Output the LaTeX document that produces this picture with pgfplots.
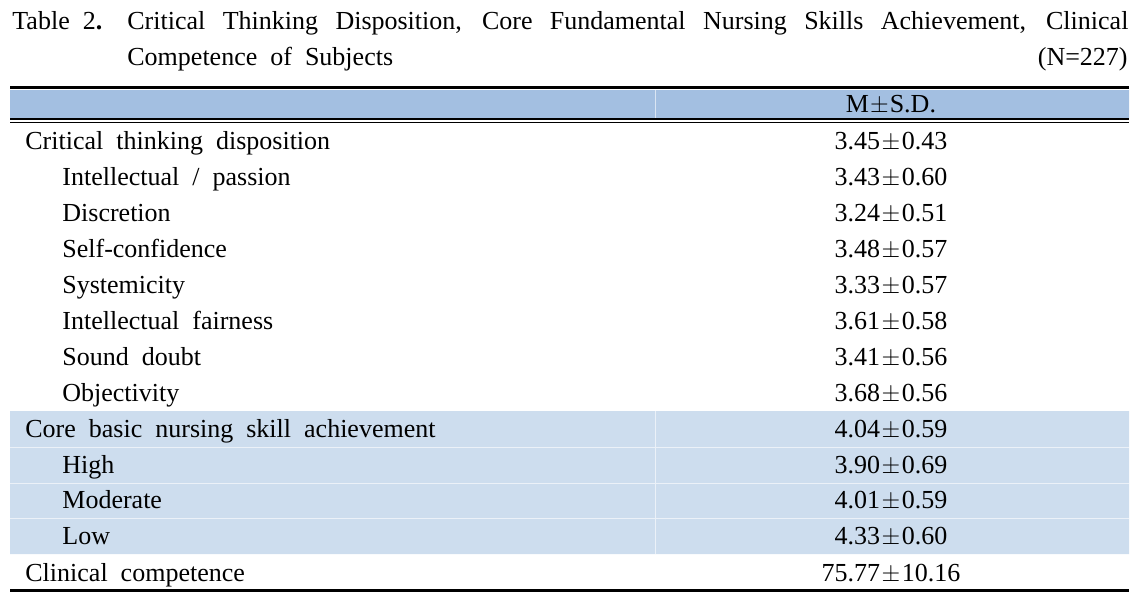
\documentclass[border=0pt]{standalone}
\usepackage{pgfplots}
\pgfplotsset{compat=1.18}
\usepackage{fontspec}
\setmainfont{Liberation Serif}
\definecolor{hdr}{RGB}{163,191,225}
\definecolor{shd}{RGB}{205,221,238}
\newcommand{\pmv}[2]{#1\hspace{0.8pt}$\pm$\hspace{0.8pt}#2}
\begin{document}
\fontsize{13pt}{15pt}\selectfont
\begin{tikzpicture}[every node/.style={font=\fontsize{13pt}{15pt}\selectfont}]
\begin{axis}[
  x=0.5pt, y=0.5pt,
  xmin=0, xmax=1148, ymin=0, ymax=595,
  y dir=reverse,
  hide axis, clip=false,
]
\addplot[draw=none] coordinates {(0,0) (1148,595)};
% header fill
\addplot[fill=hdr, draw=none] coordinates {(10,90) (1129,90) (1129,118) (10,118) (10,90)};
% shaded rows
\addplot[fill=shd, draw=none] coordinates {(10,411) (1129,411) (1129,554) (10,554) (10,411)};
% white separators
\addplot[white!60!shd, line width=0.5pt] coordinates {(10,447) (1129,447)};
\addplot[white!60!shd, line width=0.5pt] coordinates {(10,483) (1129,483)};
\addplot[white!60!shd, line width=0.5pt] coordinates {(10,518) (1129,518)};
\addplot[white!60!shd, line width=0.5pt] coordinates {(655,411) (655,554)};
\addplot[white!60!hdr, line width=0.5pt] coordinates {(655,90) (655,118)};
% rules
\addplot[black, line width=1.5pt] coordinates {(10,87.5) (1129,87.5)};
\addplot[black, line width=1pt] coordinates {(10,118.5) (1129,118.5)};
\addplot[black, line width=0.5pt] coordinates {(10,122) (1129,122)};
\addplot[black, line width=1.5pt] coordinates {(10,590.5) (1129,590.5)};
% title
\node[anchor=base west, inner sep=0pt] at (axis cs:12,29) {Table\ \ 2\textbf{.}};
\node[anchor=base west, inner sep=0pt] at (axis cs:127,29) {\makebox[500.5pt][s]{Critical Thinking Disposition, Core Fundamental Nursing Skills Achievement, Clinical}};
\node[anchor=base west, inner sep=0pt] at (axis cs:127,65) {Competence\ \ of\ \ Subjects};
\node[anchor=base east, inner sep=0pt] at (axis cs:1128,65) {(N=227)};
% header
\node[anchor=base, inner sep=0pt] at (axis cs:891,112) {M\hspace{0.5pt}$\pm$\hspace{0.5pt}S.D.};
% rows
\node[anchor=base west, inner sep=0pt] at (axis cs:25,149) {Critical\ \ thinking\ \ disposition};
\node[anchor=base west, inner sep=0pt] at (axis cs:62,185) {Intellectual\ \ /\ \ passion};
\node[anchor=base west, inner sep=0pt] at (axis cs:62,221) {Discretion};
\node[anchor=base west, inner sep=0pt] at (axis cs:62,257) {Self-confidence};
\node[anchor=base west, inner sep=0pt] at (axis cs:62,293) {Systemicity};
\node[anchor=base west, inner sep=0pt] at (axis cs:62,329) {Intellectual\ \ fairness};
\node[anchor=base west, inner sep=0pt] at (axis cs:62,365) {Sound\ \ doubt};
\node[anchor=base west, inner sep=0pt] at (axis cs:62,401) {Objectivity};
\node[anchor=base west, inner sep=0pt] at (axis cs:25,437) {Core\ \ basic\ \ nursing\ \ skill\ \ achievement};
\node[anchor=base west, inner sep=0pt] at (axis cs:62,473) {High};
\node[anchor=base west, inner sep=0pt] at (axis cs:62,508) {Moderate};
\node[anchor=base west, inner sep=0pt] at (axis cs:62,544) {Low};
\node[anchor=base west, inner sep=0pt] at (axis cs:25,581) {Clinical\ \ competence};
% values
\node[anchor=base, inner sep=0pt] at (axis cs:891,149) {\pmv{3.45}{0.43}};
\node[anchor=base, inner sep=0pt] at (axis cs:891,185) {\pmv{3.43}{0.60}};
\node[anchor=base, inner sep=0pt] at (axis cs:891,221) {\pmv{3.24}{0.51}};
\node[anchor=base, inner sep=0pt] at (axis cs:891,257) {\pmv{3.48}{0.57}};
\node[anchor=base, inner sep=0pt] at (axis cs:891,293) {\pmv{3.33}{0.57}};
\node[anchor=base, inner sep=0pt] at (axis cs:891,329) {\pmv{3.61}{0.58}};
\node[anchor=base, inner sep=0pt] at (axis cs:891,365) {\pmv{3.41}{0.56}};
\node[anchor=base, inner sep=0pt] at (axis cs:891,401) {\pmv{3.68}{0.56}};
\node[anchor=base, inner sep=0pt] at (axis cs:891,437) {\pmv{4.04}{0.59}};
\node[anchor=base, inner sep=0pt] at (axis cs:891,473) {\pmv{3.90}{0.69}};
\node[anchor=base, inner sep=0pt] at (axis cs:891,508) {\pmv{4.01}{0.59}};
\node[anchor=base, inner sep=0pt] at (axis cs:891,544) {\pmv{4.33}{0.60}};
\node[anchor=base, inner sep=0pt] at (axis cs:891,581) {\pmv{75.77}{10.16}};
\end{axis}
\end{tikzpicture}
\end{document}
